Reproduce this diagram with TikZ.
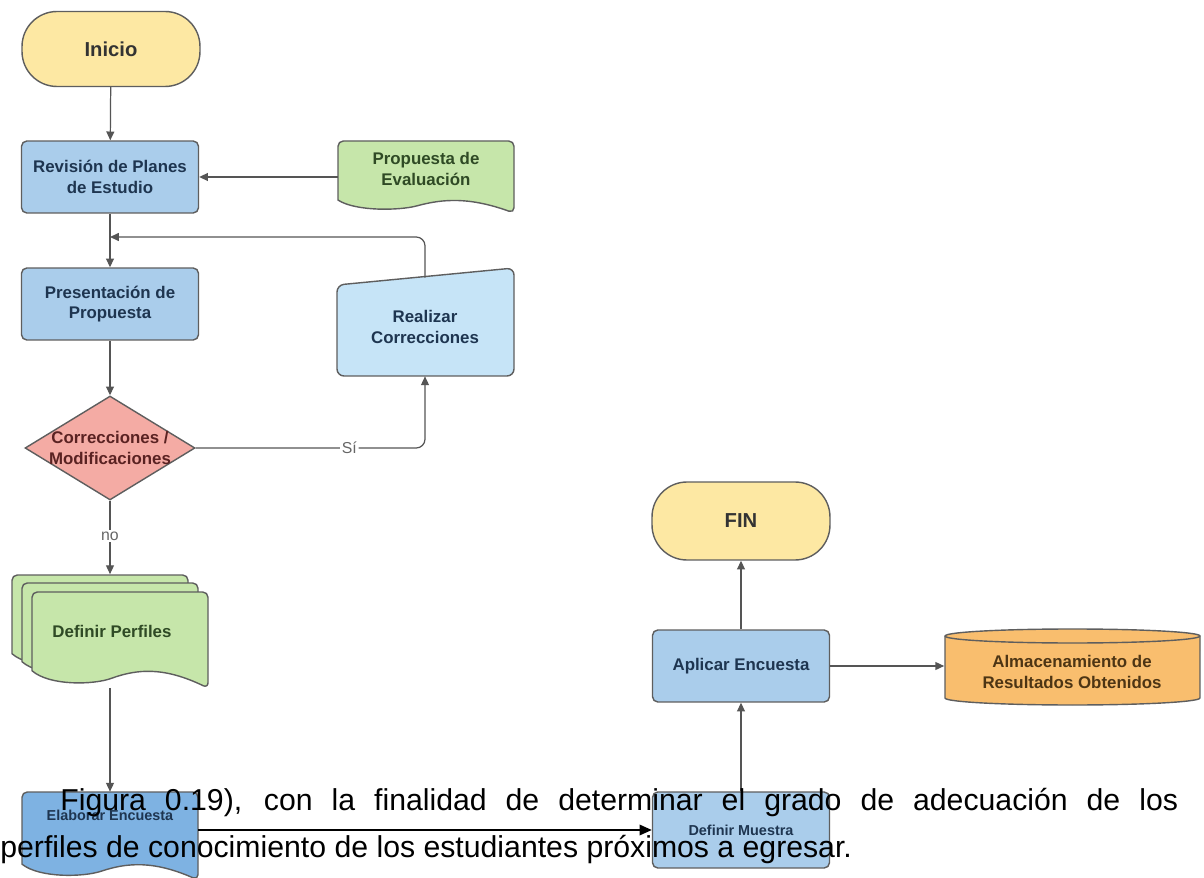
\documentclass[tikz,border=0pt]{standalone}
\usepackage{fontspec}
\setmainfont{Liberation Sans}
\usetikzlibrary{arrows.meta,shapes.geometric}
\definecolor{edge}{HTML}{5E5E5E}
\definecolor{wire}{HTML}{555555}
\definecolor{termyellow}{HTML}{FDE8A3}
\definecolor{procblue}{HTML}{AACDEB}
\definecolor{lightblue}{HTML}{C6E4F7}
\definecolor{elabblue}{HTML}{7EB2E2}
\definecolor{docgreen}{HTML}{C6E6AA}
\definecolor{decpink}{HTML}{F4ABA4}
\definecolor{storeorange}{HTML}{F9BE6E}
\definecolor{navy}{HTML}{1E3550}
\definecolor{darkgreen}{HTML}{2F4A25}
\definecolor{darkred}{HTML}{5A2222}
\definecolor{darkbrown}{HTML}{4D3514}
\tikzset{
  base/.style={align=center, text=navy, font=\bfseries\fontsize{9.6}{11.5}\selectfont},
  term/.style={base, draw=edge, line width=0.8pt, fill=termyellow, rounded corners=0.7cm,
    minimum width=3.56cm, minimum height=1.5cm, text=black!80, font=\bfseries\fontsize{11.5}{13}\selectfont},
  proc/.style={base, draw=edge, line width=0.8pt, fill=procblue, rounded corners=3pt,
    minimum width=3.54cm, minimum height=1.44cm},
  shapeline/.style={draw=edge, line width=0.8pt},
  arr/.style={draw=wire, line width=0.7pt, -{Triangle[length=5pt,width=4.5pt]}},
  lbl/.style={fill=white, inner sep=1pt, text=black!60, font=\fontsize{9}{10}\selectfont},
  para/.style={anchor=base west, inner sep=0pt, font=\fontsize{17.2}{20}\selectfont}
}
\begin{document}
\begin{tikzpicture}[x=0.02cm,y=-0.02cm]
\clip (0,0) rectangle (1204,878);
\fill[white] (0,0) rectangle (1204,878);

% document shapes (drawn first, text nodes on top)
\foreach \x/\y/\h/\col in {338/141/72/docgreen,12/575/96/docgreen,22/583/96/docgreen,32/592/96/docgreen,22/792/88/elabblue}
\filldraw[shapeline, fill=\col, shift={(\x,\y)}] (0,0.82*\h) [rounded corners=3pt] -- (0,0) -- (176,0) -- (176,\h) [sharp corners]
  .. controls (132,0.78*\h) and (105.6,0.8*\h) .. (79.2,0.9*\h)
  .. controls (61.6,0.967*\h) and (17.6,0.98*\h) .. (0,0.82*\h) -- cycle;

% manual input
\filldraw[shapeline, fill=lightblue, rounded corners=4pt] (337,285) -- (514,268) -- (514,376) -- (337,376) -- cycle;

% storage cylinder
\filldraw[shapeline, fill=storeorange] (945,636) -- (945,698) arc[start angle=180, end angle=360, x radius=2.55cm, y radius=0.14cm]
  -- (1200,636) arc[start angle=0, end angle=180, x radius=2.55cm, y radius=0.14cm] -- cycle;
\draw[shapeline] (945,636) arc[start angle=180, end angle=360, x radius=2.55cm, y radius=0.14cm];

% nodes
\node[term] (ini) at (111,49) {Inicio};
\node[proc] (rev) at (110,177) {Revisión de Planes\\de Estudio};
\node[base, text=darkgreen, minimum width=3.52cm, minimum height=1.12cm] (prop) at (426,169) {Propuesta de\\Evaluación};
\node[proc] (pres) at (110,304) {Presentación de\\Propuesta};
\node[base, minimum width=3.54cm, minimum height=1.96cm] (corr) at (425,327) {Realizar\\Correcciones};
\node[diamond, draw=edge, line width=0.8pt, fill=decpink, minimum width=3.4cm, minimum height=2.08cm, inner sep=0pt,
  label={[base, text=darkred]center:Correcciones /\\Modificaciones}] (dec) at (110,448) {};
\node[base, text=darkgreen, minimum width=3.92cm, minimum height=2.26cm] (perf) at (112,631) {Definir Perfiles};
\node[base, minimum width=3.52cm, minimum height=0.92cm, font=\bfseries\fontsize{8.2}{10}\selectfont] (elab) at (110,815) {Elaborar Encuesta};
\node[proc, minimum height=1.52cm, font=\bfseries\fontsize{8.2}{10}\selectfont] (mues) at (741,830) {Definir Muestra};
\node[proc] (apl) at (741,666) {Aplicar Encuesta};
\node[term, minimum height=1.56cm] (fin) at (741,521) {FIN};
\node[base, text=darkbrown, minimum width=5.1cm, minimum height=1.2cm] (store) at (1072,672) {Almacenamiento de\\Resultados Obtenidos};
\coordinate (back) at (110,237);

% connectors
\draw[arr] (ini) -- (rev);
\draw[arr] (rev.east -| prop.west) -- (rev.east);
\draw[arr] (rev) -- (pres);
\draw[arr, rounded corners=5pt] (corr.north) |- (back);
\draw[arr] (pres) -- (dec);
\draw[arr, rounded corners=5pt] (dec.east) -- node[lbl, pos=0.67] {Sí} (dec.east -| corr.south) -- (corr.south);
\draw[arr] (dec.south) -- node[lbl, pos=0.48] {no} (dec.south |- perf.north);
\draw[arr] (dec.south |- perf.south) -- (elab.north);
\draw[line width=1pt, -{Triangle[length=7pt,width=6pt]}] (mues.west -| elab.east) -- (mues.west);
\draw[arr] (mues) -- (apl);
\draw[arr] (apl) -- (fin);
\draw[arr] (apl.east) -- (apl.east -| store.west);

% text of the page over the figure
\node[para] (par1) at (60,810) {\makebox[22.36cm][s]{Figura 0.19), con la finalidad de determinar el grado de adecuación de los}};
\node[para] (par2) at (0,857) {perfiles de conocimiento de los estudiantes próximos a egresar.};
\end{tikzpicture}
\end{document}
